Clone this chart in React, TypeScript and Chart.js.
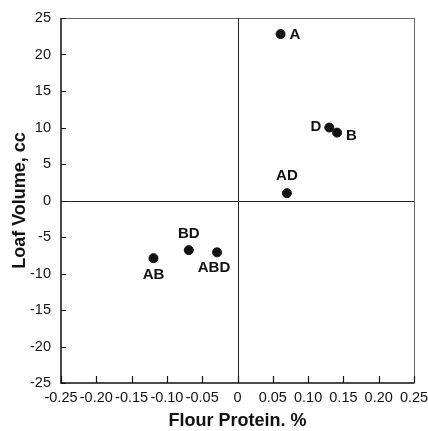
import React, { useEffect, useRef } from "react";
import { Chart, registerables } from "chart.js";

Chart.register(...registerables);

const pointNames = ["A", "D", "B", "AD", "AB", "BD", "ABD"];
const proteinValues = [0.061, 0.13, 0.141, 0.07, -0.119, -0.069, -0.029];
const volumeValues = [22.8, 10.0, 9.3, 1.0, -7.9, -6.8, -7.1];
const xTickLabels = ["-0.25", "-0.20", "-0.15", "-0.10", "-0.05", "0", "0.05", "0.10", "0.15", "0.20", "0.25"];
const yTickLabels = ["-25", "-20", "-15", "-10", "-5", "0", "5", "10", "15", "20", "25"];

// label placement: [dx, dy, align]
const labelPlacement: Record<string, [number, number, CanvasTextAlign]> = {
  A: [9, 1, "left"],
  D: [-8, -1, "right"],
  B: [9, 3, "left"],
  AD: [0, -17, "center"],
  AB: [0, 17, "center"],
  BD: [0, -16, "center"],
  ABD: [-3, 16, "center"],
};

const framePlugin = {
  id: "frame",
  afterDraw(chart: any) {
    const { ctx, chartArea } = chart;
    const { left, right, top, bottom } = chartArea;
    const xs = chart.scales.x;
    const ys = chart.scales.y;
    ctx.save();
    // top/right thin border
    ctx.strokeStyle = "#666";
    ctx.lineWidth = 1;
    ctx.beginPath();
    ctx.moveTo(left, top + 0.5);
    ctx.lineTo(right + 0.5, top + 0.5);
    ctx.lineTo(right + 0.5, bottom);
    ctx.stroke();
    // left/bottom axis
    ctx.strokeStyle = "#111";
    ctx.lineWidth = 1.5;
    ctx.beginPath();
    ctx.moveTo(left, top);
    ctx.lineTo(left, bottom);
    ctx.lineTo(right + 0.5, bottom);
    ctx.stroke();
    // zero lines
    ctx.lineWidth = 1;
    ctx.strokeStyle = "#222";
    const x0 = Math.round(xs.getPixelForValue(0)) + 0.5;
    const y0 = Math.round(ys.getPixelForValue(0)) + 0.5;
    ctx.beginPath();
    ctx.moveTo(x0, top);
    ctx.lineTo(x0, bottom);
    ctx.moveTo(left, y0);
    ctx.lineTo(right, y0);
    ctx.stroke();
    // inward ticks
    ctx.lineWidth = 1.2;
    ctx.strokeStyle = "#111";
    ctx.beginPath();
    xTickLabels.forEach((t) => {
      const v = parseFloat(t);
      const px = Math.round(xs.getPixelForValue(v)) + 0.5;
      ctx.moveTo(px, bottom);
      ctx.lineTo(px, bottom - 7);
    });
    yTickLabels.forEach((t) => {
      const v = parseFloat(t);
      const py = Math.round(ys.getPixelForValue(v)) + 0.5;
      ctx.moveTo(left, py);
      ctx.lineTo(left + 5, py);
    });
    ctx.stroke();
    // point labels
    ctx.fillStyle = "#111";
    ctx.font = "bold 15px 'Liberation Sans', Arial, sans-serif";
    ctx.textBaseline = "middle";
    pointNames.forEach((name, i) => {
      const px = xs.getPixelForValue(proteinValues[i]);
      const py = ys.getPixelForValue(volumeValues[i]);
      const [dx, dy, align] = labelPlacement[name];
      ctx.textAlign = align;
      ctx.fillText(name, px + dx, py + dy);
    });
    ctx.restore();
  },
};

export default function App() {
  const ref = useRef<HTMLCanvasElement | null>(null);
  useEffect(() => {
    if (!ref.current) return;
    const tickFont = { family: "'Liberation Sans', Arial, sans-serif", size: 14.5 };
    const titleFont = {
      family: "'Liberation Sans', Arial, sans-serif",
      size: 18,
      weight: "bold" as const,
      lineHeight: 1,
    };
    const chart = new Chart(ref.current, {
      type: "scatter",
      data: {
        datasets: [
          {
            data: proteinValues.map((x, i) => ({ x, y: volumeValues[i] })),
            backgroundColor: "#111",
            borderColor: "#111",
            pointRadius: 4.5,
            pointHoverRadius: 4.5,
          },
        ],
      },
      options: {
        animation: false,
        responsive: false,
        maintainAspectRatio: false,
        layout: { padding: { top: 18, right: 14, left: 0, bottom: 0 } },
        plugins: { legend: { display: false }, tooltip: { enabled: false } },
        scales: {
          x: {
            type: "linear",
            min: -0.25,
            max: 0.25,
            afterFit: (s: any) => {
              s.height = 48;
              s.paddingLeft = 0;
              s.paddingRight = 0;
            },
            afterBuildTicks: (s: any) => {
              s.ticks = xTickLabels.map((t) => ({ value: parseFloat(t) }));
            },
            ticks: {
              autoSkip: false,
              maxRotation: 0,
              color: "#111",
              font: tickFont,
              padding: 6,
              callback: (_v: any, i: number) => xTickLabels[i],
            },
            grid: { display: false, drawTicks: false },
            border: { display: false },
            title: {
              display: true,
              text: "Flour Protein. %",
              color: "#111",
              font: titleFont,
              padding: { top: 0, bottom: 1 },
            },
          },
          y: {
            type: "linear",
            min: -25,
            max: 25,
            afterFit: (s: any) => {
              s.width = 61;
              s.paddingTop = 0;
              s.paddingBottom = 0;
            },
            afterBuildTicks: (s: any) => {
              s.ticks = yTickLabels.map((t) => ({ value: parseFloat(t) }));
            },
            ticks: {
              autoSkip: false,
              color: "#111",
              font: tickFont,
              padding: 10,
              callback: (_v: any, i: number) => yTickLabels[i],
            },
            grid: { display: false, drawTicks: false },
            border: { display: false },
            title: {
              display: true,
              text: "Loaf Volume, cc",
              color: "#111",
              font: titleFont,
              padding: { top: 11, bottom: 0 },
            },
          },
        },
      },
      plugins: [framePlugin],
    });
    return () => chart.destroy();
  }, []);
  return (
    <div style={{ position: "fixed", left: 0, top: 0, width: 428, height: 431, background: "#fff" }}>
      <canvas ref={ref} width={428} height={431} style={{ width: 428, height: 431 }} />
    </div>
  );
}
